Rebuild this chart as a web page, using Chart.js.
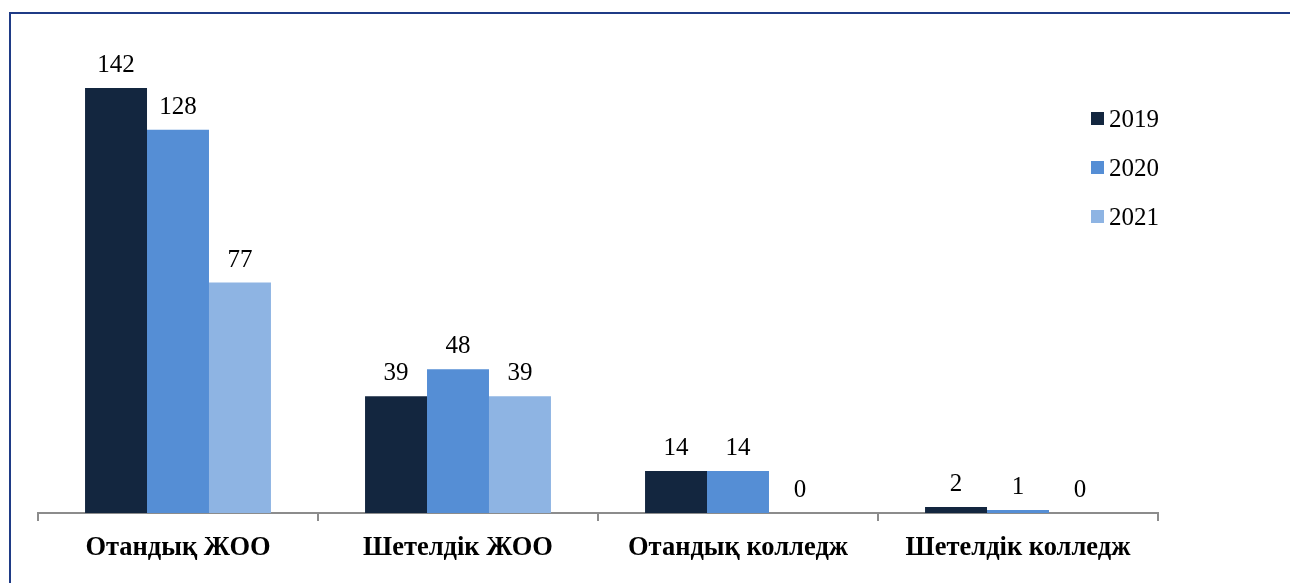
<!DOCTYPE html>
<html>
<head>
<meta charset="utf-8">
<script src="https://cdn.jsdelivr.net/npm/chart.js@4.4.1/dist/chart.umd.min.js"></script>
<style>
  html, body { margin: 0; padding: 0; background: #ffffff; }
  #wrap { width: 1290px; height: 583px; position: relative; }
</style>
</head>
<body>
<div id="wrap"><canvas id="myChart" width="1290" height="583"></canvas></div>
<script>
    // data
    const categories = ['Отандық ЖОО', 'Шетелдік ЖОО', 'Отандық колледж', 'Шетелдік колледж'];
    const seriesNames = ['2019', '2020', '2021'];
    const values2019 = [142, 39, 14, 2];
    const values2020 = [128, 48, 14, 1];
    const values2021 = [77, 39, 0, 0];
    const colors = ['#13263f', '#558ed5', '#8eb4e3'];

    const serif = "'Liberation Serif', 'Times New Roman', serif";

    // frame + value labels + legend drawn by hand
    const extras = {
      id: 'extras',
      beforeDraw(chart) {
        const c = chart.ctx;
        c.save();
        c.strokeStyle = '#1f3b86';
        c.lineWidth = 2;
        c.beginPath();
        c.moveTo(10, 600);
        c.lineTo(10, 13);
        c.lineTo(1300, 13);
        c.stroke();
        c.restore();
      },
      afterDatasetsDraw(chart) {
        const c = chart.ctx;
        c.save();
        c.font = '25px ' + serif;
        c.fillStyle = '#000000';
        c.textAlign = 'center';
        c.textBaseline = 'alphabetic';
        chart.data.datasets.forEach(function(ds, i) {
          chart.getDatasetMeta(i).data.forEach(function(bar, j) {
            c.fillText(ds.data[j], bar.x, bar.y - 16);
          });
        });
        // legend
        c.textAlign = 'left';
        chart.data.datasets.forEach(function(ds, i) {
          const y = 112 + i * 49;
          c.fillStyle = ds.backgroundColor;
          c.fillRect(1091, y, 13, 13);
          c.fillStyle = '#000000';
          c.fillText(ds.label, 1109, y + 15);
        });
        c.restore();
      }
    };

    const ctx = document.getElementById('myChart');
    const myChart = new Chart(ctx, {
      type: 'bar',
      data: {
        labels: categories,
        datasets: [
          { label: seriesNames[0], data: values2019, backgroundColor: colors[0] },
          { label: seriesNames[1], data: values2020, backgroundColor: colors[1] },
          { label: seriesNames[2], data: values2021, backgroundColor: colors[2] }
        ]
      },
      options: {
        responsive: false,
        animation: false,
        layout: { padding: { left: 38, right: 132, top: 64, bottom: 0 } },
        datasets: { bar: { barPercentage: 1, categoryPercentage: 0.664 } },
        plugins: { legend: { display: false }, tooltip: { enabled: false } },
        scales: {
          x: {
            afterFit(scale) { scale.height = 70; },
            border: { color: '#8c8c8c', width: 2 },
            grid: { offset: true, drawOnChartArea: false, drawTicks: true, tickLength: 8, color: '#8c8c8c', lineWidth: 2 },
            ticks: { color: '#000000', padding: 11, font: { family: serif, size: 26.5, weight: 'bold' }, maxRotation: 0 }
          },
          y: {
            display: false,
            min: 0,
            max: 150
          }
        }
      },
      plugins: [extras]
    });
</script>
</body>
</html>
